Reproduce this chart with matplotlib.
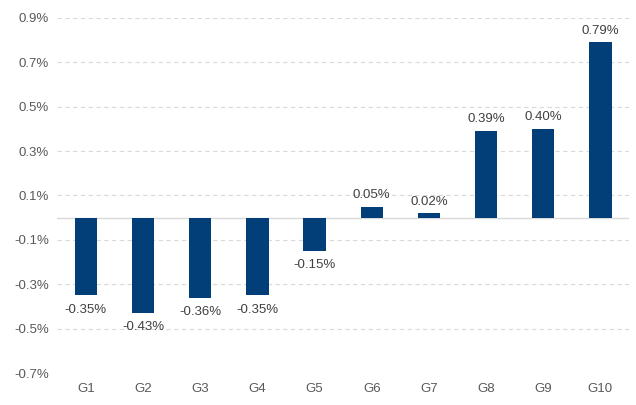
import matplotlib
matplotlib.use("Agg")
import matplotlib.pyplot as plt
from matplotlib.ticker import FuncFormatter

categories = ["G1", "G2", "G3", "G4", "G5", "G6", "G7", "G8", "G9", "G10"]
values = [-0.35, -0.43, -0.36, -0.35, -0.15, 0.05, 0.02, 0.39, 0.40, 0.79]
yticks = [-0.7, -0.5, -0.3, -0.1, 0.1, 0.3, 0.5, 0.7, 0.9]

plt.rcParams['font.family'] = ['Liberation Sans', 'DejaVu Sans']

fig = plt.figure(figsize=(6.36, 4.05), dpi=100)
ax = fig.add_axes([0.09, 0.079, 0.899, 0.877])

bar_color = "#023f78"
x = list(range(len(categories)))
ax.bar(x, values, width=0.39, color=bar_color, zorder=3)

ax.set_xlim(-0.5, len(categories) - 0.5)
ax.set_ylim(-0.7, 0.9)
ax.set_yticks(yticks)
ax.yaxis.set_major_formatter(FuncFormatter(lambda v, p: f"{v:.1f}%"))
ax.set_xticks(x)
ax.set_xticklabels(categories)

ax.grid(axis='y', linestyle=(0, (4, 3)), color="#d9d9d9", linewidth=0.8, zorder=0)
ax.axhline(0, color="#d9d9d9", linewidth=1.0, zorder=2)

for s in ax.spines.values():
    s.set_visible(False)
ax.tick_params(axis='both', length=0, labelsize=9.5, colors="#595959", pad=6)
ax.tick_params(axis='x', pad=7)

for xi, v in zip(x, values):
    if v >= 0:
        ax.annotate(f"{v:.2f}%", (xi, v), xytext=(0, 4), textcoords="offset points",
                    ha='center', va='bottom', fontsize=9.5, color="#404040")
    else:
        ax.annotate(f"{v:.2f}%", (xi, v), xytext=(0, -6), textcoords="offset points",
                    ha='center', va='top', fontsize=9.5, color="#404040")

fig.savefig("out.png", dpi=100)
